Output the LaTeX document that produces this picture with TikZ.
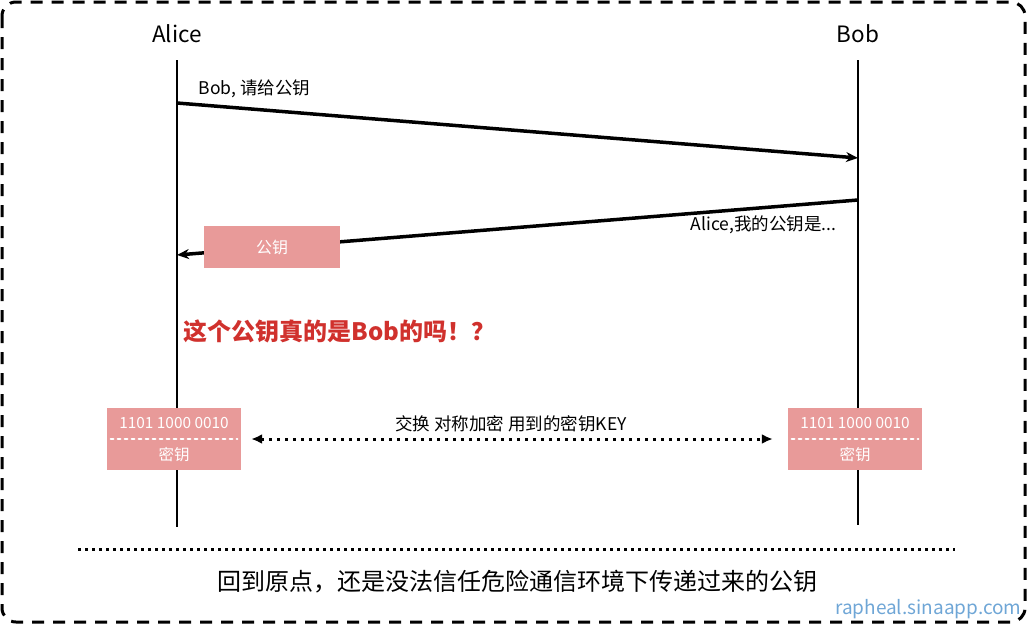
\documentclass[tikz,border=0pt]{standalone}
\usepackage{fontspec}
\setmainfont{Noto Sans CJK SC}
\usetikzlibrary{
    positioning,
    arrows.meta
}

\definecolor{keypink}{HTML}{E89A99}
\definecolor{warnred}{HTML}{D0312D}
\definecolor{markblue}{HTML}{6FA6D6}

\begin{document}
\begin{tikzpicture}
[
    x=1pt,
    y=-1pt,
    font=\fontsize{17.5}{19}\selectfont,
    actor/.style={
        font=\fontsize{22.5}{24}\selectfont
    },
    lifeline/.style={
        line width=1.6pt
    },
    msg/.style={
        -{Stealth[length=12pt,width=10pt]},
        line width=3.5pt
    },
    keybox/.style={
        rectangle,
        fill=keypink,
        text=white,
        minimum width=134pt,
        minimum height=62pt,
        inner sep=0pt
    },
    note/.style={
        font=\fontsize{17.5}{19}\selectfont
    }
]

\useasboundingbox (0,0) rectangle (1027,624);


% =====================
% FRAME
% =====================

\draw[
line width=3pt,
dash pattern=on 12pt off 9pt,
rounded corners=14pt
]
(2,2)
rectangle
(1025,622);


% =====================
% ACTORS
% =====================

\node[actor] (alice) at (177,34) {Alice};

\node[actor] (bob) at (858,34) {Bob};


\coordinate (aliceTop) at (177,60);
\coordinate (aliceEnd) at (177,527);
\coordinate (bobTop) at (858,60);
\coordinate (bobEnd) at (858,525);

\draw[lifeline]
(aliceTop)
--
(aliceEnd);

\draw[lifeline]
(bobTop)
--
(bobEnd);


% =====================
% MESSAGES
% =====================

\coordinate (askFrom) at (177,103);
\coordinate (askTo) at (858,158);

\coordinate (replyFrom) at (858,200);
\coordinate (replyTo) at (177,255);


\node[
note,
anchor=west
]
(ask)
at (195,89)
{Bob, 请给公钥};


\node[
note,
anchor=east
]
(reply)
at (840,225)
{Alice,我的公钥是...};


\draw[msg]
(askFrom)
--
(askTo);


\draw[msg]
(replyFrom)
--
(replyTo);


\node[
keybox,
minimum width=136pt,
minimum height=42pt,
font=\fontsize{16}{18}\selectfont
]
(pubkey)
at (272,247)
{公钥};


% =====================
% DOUBT
% =====================

\node[
anchor=west,
text=warnred,
font=\fontsize{24}{26}\selectfont\bfseries
]
(doubt)
at (180,331)
{这个公钥真的是Bob的吗！？};


% =====================
% SYMMETRIC KEYS
% =====================

\node[keybox] (keyA) at (174,439) {};

\node[keybox] (keyB) at (855,439) {};


\foreach \k in {keyA,keyB}
{
\node[text=white,font=\fontsize{15.4}{17}\selectfont] at ([yshift=16pt]\k.center) {1101 1000 0010};
\node[text=white,font=\fontsize{15.5}{17}\selectfont] at ([yshift=-16pt]\k.center) {密钥};
\draw[
white,
line width=2.5pt,
dash pattern=on 2.5pt off 4.5pt,
line cap=round
]
([xshift=4pt]\k.west)
--
([xshift=-4pt]\k.east);
}


\draw[
{Latex[length=11pt,width=10pt]}-{Latex[length=11pt,width=10pt]},
line width=3pt,
dash pattern=on 3pt off 5pt
]
([xshift=10pt]keyA.east)
--
([xshift=-15pt]keyB.west);


\node[note] (swap) at (511,424) {交换 对称加密 用到的密钥KEY};


% =====================
% CONCLUSION
% =====================

\coordinate (sepLeft) at (78,549);
\coordinate (sepRight) at (955,549);

\draw[
line width=3pt,
dash pattern=on 3pt off 4pt
]
(sepLeft)
--
(sepRight);


\node[
font=\fontsize{24}{26}\selectfont
]
(summary)
at (517,582)
{回到原点，还是没法信任危险通信环境下传递过来的公钥};


\node[
text=markblue,
font=\fontsize{19}{21}\selectfont,
anchor=east
]
(mark)
at (1025,609)
{rapheal.sinaapp.com};


\end{tikzpicture}
\end{document}
